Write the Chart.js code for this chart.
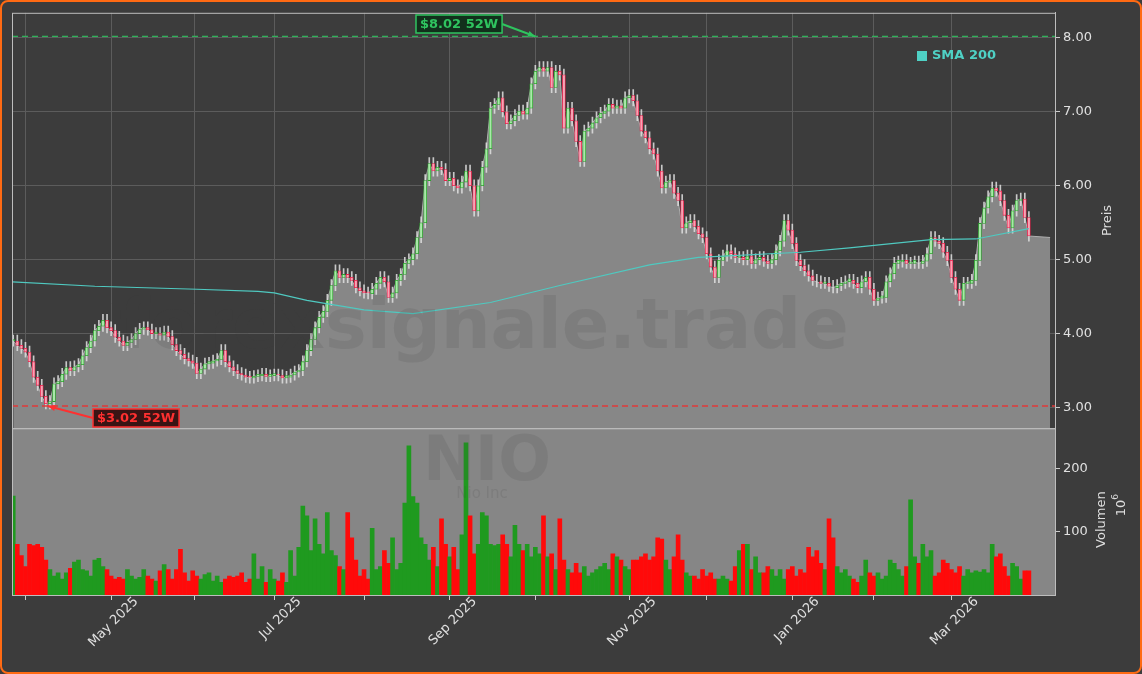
<!DOCTYPE html>
<html>
<head>
<meta charset="utf-8">
<script src="https://cdn.jsdelivr.net/npm/chart.js@4.4.1/dist/chart.umd.min.js"></script>
<style>
  html, body { margin: 0; padding: 0; background: #3c3c3c; }
  #wrap { width: 1138px; height: 670px; border: 2px solid #ff6a13; border-radius: 8px; overflow: hidden; }
</style>
</head>
<body>
<div id="wrap"><canvas id="chart" width="1138" height="670"></canvas></div>
<script>
// daily closes (trading-day index 0 = 27 Mar 2025)
const closes = [
  3.90,3.84,3.80,3.75,3.62, 3.41,3.30,3.15,3.05,3.08, 3.32,3.35,3.45,3.54,3.50, 3.55,3.58,3.70,3.81,3.90,
  4.04,4.10,4.18,4.08,4.04, 3.95,3.90,3.84,3.88,3.92, 4.00,4.06,4.08,4.05,4.00, 4.00,3.98,4.02,3.96,3.85,
  3.77,3.72,3.66,3.63,3.60, 3.46,3.52,3.59,3.60,3.63, 3.65,3.77,3.62,3.55,3.50, 3.46,3.44,3.41,3.40,3.42,
  3.43,3.45,3.42,3.43,3.44, 3.43,3.40,3.41,3.44,3.48, 3.50,3.62,3.77,3.92,4.08, 4.22,4.30,4.45,4.65,4.85,
  4.76,4.80,4.76,4.72,4.62, 4.58,4.55,4.54,4.60,4.68, 4.76,4.70,4.49,4.55,4.72, 4.80,4.95,5.00,5.08,5.30,
  5.50,6.07,6.30,6.20,6.25, 6.22,6.07,6.10,6.00,5.97, 6.05,6.20,6.00,5.66,6.00, 6.25,6.50,7.05,7.10,7.19,
  7.00,6.84,6.88,6.95,7.01, 6.97,7.05,7.38,7.55,7.60, 7.55,7.60,7.33,7.55,7.50, 6.78,7.05,6.88,6.60,6.33,
  6.74,6.78,6.85,6.92,6.98, 7.01,7.10,7.05,7.08,7.05, 7.19,7.22,7.15,6.95,6.74, 6.65,6.50,6.43,6.20,5.97,
  6.05,6.07,5.90,5.80,5.43, 5.50,5.53,5.45,5.35,5.30, 5.08,4.90,4.76,4.99,5.05, 5.12,5.08,5.03,5.03,5.00,
  5.05,4.95,5.00,5.03,4.98, 4.95,5.00,5.12,5.25,5.53, 5.40,5.22,4.99,4.92,4.85, 4.78,4.72,4.70,4.68,4.68,
  4.64,4.62,4.65,4.68,4.70, 4.72,4.68,4.62,4.70,4.76, 4.60,4.45,4.48,4.49,4.70, 4.81,4.95,4.97,4.99,4.95,
  4.95,4.97,4.95,4.98,5.08, 5.30,5.25,5.22,5.10,4.99, 4.76,4.60,4.45,4.68,4.68, 4.72,4.99,5.49,5.70,5.85,
  5.97,5.93,5.80,5.60,5.43, 5.66,5.80,5.82,5.57,5.32
];
// volume in millions
const volumes = [
  156,80,62,45,80, 78,80,75,55,40, 30,35,25,35,42, 52,55,40,38,30, 55,58,45,40,30, 25,28,25,40,30,
  25,28,40,30,25, 22,38,48,40,25, 40,72,35,22,38, 30,25,32,35,22, 30,20,25,30,28, 30,35,20,25,65,
  25,45,20,40,25, 22,35,20,70,30, 75,140,125,70,120, 80,65,130,70,62, 45,40,130,90,55, 30,40,25,105,40,
  45,70,50,90,40, 50,145,235,155,145, 90,80,55,75,45, 120,80,60,75,40, 95,240,125,65,80, 130,125,80,78,80,
  95,80,60,110,80, 70,80,60,75,65, 125,60,65,40,120, 55,40,35,50,35, 45,30,35,40,45, 50,40,65,60,55,
  45,40,55,55,60, 65,55,60,90,88, 55,40,60,95,55, 35,30,30,25,40, 30,35,25,25,30, 25,22,45,70,80,
  80,40,60,35,35, 45,40,30,40,25, 40,45,30,40,35, 75,60,70,50,40, 120,90,45,35,40, 30,25,20,30,55,
  35,30,35,25,30, 55,50,40,30,45, 150,60,50,80,60, 70,30,35,55,50, 40,35,45,30,40, 35,38,36,40,35,
  80,60,65,45,30, 50,45,25,38,38
];
// SMA 200 read at a few positions [index, value]
const smaIdx = [-0.2, 20, 45, 60, 64, 72, 86, 98, 117, 134, 156, 168, 193, 205, 225, 236, 249];
const smaVal = [4.70, 4.64, 4.60, 4.57, 4.55, 4.45, 4.32, 4.27, 4.42, 4.65, 4.93, 5.03, 5.10, 5.16, 5.27, 5.28, 5.42];
// month starts (trading-day index) and labels
const monthIdx = [3, 24, 44.5, 64, 86, 107, 128, 151, 170, 191, 211, 230];
const monthLabels = ['', 'May 2025', '', 'Jul 2025', '', 'Sep 2025', '', 'Nov 2025', '', 'Jan 2026', '', 'Mar 2026'];
const priceTicks = [3, 4, 5, 6, 7, 8];
const high52 = 8.02, high52Idx = 128;
const low52 = 3.02, low52Idx = 8;
const lastArea = { x: 254.2, y: 5.30 };

const opens = closes.map((c, i) => i === 0 ? c : closes[i - 1]);
const up = closes.map((c, i) => c >= opens[i]);

const bodies = closes.map((c, i) => ({ x: i, y: [opens[i], Math.abs(c - opens[i]) < 0.02 ? c + 0.02 : c] }));
const wicks = closes.map((c, i) => ({ x: i, y: [Math.min(c, opens[i]) - 0.07, Math.max(c, opens[i]) + 0.08] }));
const area = closes.map((c, i) => ({ x: i, y: c })).concat([lastArea]);
const vol = volumes.map((v, i) => ({ x: i, y: v }));
const sma = smaIdx.map((x, i) => ({ x, y: smaVal[i] }));

const FONT = 'DejaVu Sans';

const decor = {
  id: 'decor',
  beforeDatasetsDraw(chart) {
    const { ctx, chartArea } = chart;
    const yv = chart.scales.yv;
    ctx.save();
    ctx.fillStyle = '#868686';
    ctx.fillRect(chartArea.left, yv.top, chartArea.right - chartArea.left, yv.bottom - yv.top);
    ctx.restore();
  },
  afterDatasetsDraw(chart) {
    const { ctx, chartArea } = chart;
    const x = chart.scales.x, y = chart.scales.y, yv = chart.scales.yv;
    ctx.save();
    // watermarks
    ctx.fillStyle = 'rgba(60,60,60,0.13)';
    ctx.font = 'bold 70px ' + FONT;
    ctx.textAlign = 'center'; ctx.textBaseline = 'middle';
    ctx.fillText('forexsignale.trade', 482, 328);
    ctx.font = 'bold 62px ' + FONT;
    ctx.fillText('NIO', 485, 462);
    ctx.font = '15px ' + FONT;
    ctx.fillText('Nio Inc', 480, 492);
    // 52w lines
    ctx.setLineDash([6, 4]);
    ctx.lineWidth = 1.3;
    ctx.strokeStyle = '#2fb35a';
    ctx.beginPath(); ctx.moveTo(chartArea.left, y.getPixelForValue(high52)); ctx.lineTo(chartArea.right, y.getPixelForValue(high52)); ctx.stroke();
    ctx.strokeStyle = '#e03a3a';
    ctx.beginPath(); ctx.moveTo(chartArea.left, y.getPixelForValue(low52)); ctx.lineTo(chartArea.right, y.getPixelForValue(low52)); ctx.stroke();
    ctx.setLineDash([]);
    // annotations
    function note(text, tipX, tipY, bx, by, fg, bg) {
      ctx.font = 'bold 13px ' + FONT;
      const w = ctx.measureText(text).width + 8;
      ctx.strokeStyle = fg; ctx.lineWidth = 2;
      ctx.beginPath();
      const sx = bx < tipX ? bx + w : bx;
      ctx.moveTo(sx, by + 9); ctx.lineTo(tipX, tipY); ctx.stroke();
      const ang = Math.atan2(tipY - by - 9, tipX - sx);
      ctx.fillStyle = fg;
      ctx.beginPath();
      ctx.moveTo(tipX, tipY);
      ctx.lineTo(tipX - 8 * Math.cos(ang - 0.4), tipY - 8 * Math.sin(ang - 0.4));
      ctx.lineTo(tipX - 8 * Math.cos(ang + 0.4), tipY - 8 * Math.sin(ang + 0.4));
      ctx.fill();
      ctx.fillStyle = bg; ctx.fillRect(bx, by, w, 18);
      ctx.lineWidth = 1.5; ctx.strokeRect(bx, by, w, 18);
      ctx.fillStyle = fg; ctx.textAlign = 'left'; ctx.textBaseline = 'middle';
      ctx.fillText(text, bx + 4, by + 9.5);
    }
    note('$8.02 52W', x.getPixelForValue(high52Idx), y.getPixelForValue(high52), 414, 13, '#2fc45f', '#12301c');
    note('$3.02 52W', x.getPixelForValue(low52Idx) + 2, y.getPixelForValue(low52), 91, 407, '#ff3030', '#3a1414');
    // legend
    ctx.fillStyle = '#4fd1c5';
    ctx.fillRect(915, 49, 10, 10);
    ctx.font = 'bold 13px ' + FONT; ctx.textAlign = 'left'; ctx.textBaseline = 'middle';
    ctx.fillText('SMA 200', 930, 54);
    // panel frames
    ctx.strokeStyle = '#bdbdbd'; ctx.lineWidth = 1;
    ctx.strokeRect(chartArea.left + 0.5, y.top + 0.5, chartArea.right - chartArea.left, y.bottom - y.top);
    ctx.strokeRect(chartArea.left + 0.5, yv.top + 0.5, chartArea.right - chartArea.left, yv.bottom - yv.top);
    // axis titles
    ctx.fillStyle = '#dddddd'; ctx.font = '13px ' + FONT; ctx.textAlign = 'center';
    ctx.save(); ctx.translate(1106, (y.top + y.bottom) / 2); ctx.rotate(-Math.PI / 2); ctx.fillText('Preis', 0, 0); ctx.restore();
    ctx.save(); ctx.translate(1100, (yv.top + yv.bottom) / 2 + 8); ctx.rotate(-Math.PI / 2); ctx.fillText('Volumen', 0, 0); ctx.restore();
    ctx.save(); ctx.translate(1120, 506); ctx.rotate(-Math.PI / 2); ctx.fillText('10', 0, 0);
    ctx.font = '9px ' + FONT; ctx.fillText('6', 11, -6); ctx.restore();
    ctx.restore();
  }
};

new Chart(document.getElementById('chart'), {
  data: {
    datasets: [
      { type: 'line', label: 'SMA 200', data: sma, yAxisID: 'y', borderColor: '#4fc9c0', borderWidth: 1.2, pointRadius: 0, fill: false, order: 0 },
      { type: 'bar', label: 'bodies', data: bodies, yAxisID: 'y', grouped: false, barThickness: 3,
        backgroundColor: up.map(u => u ? '#a9e9a9' : '#f7a3b4'), borderColor: up.map(u => u ? '#2ca02c' : '#e8204a'),
        borderWidth: 0.8, borderSkipped: false, order: 1 },
      { type: 'bar', label: 'wicks', data: wicks, yAxisID: 'y', grouped: false, barThickness: 1,
        backgroundColor: 'rgba(225,225,225,0.85)', order: 2 },
      { type: 'line', label: 'area', data: area, yAxisID: 'y', borderColor: '#b0b0b0', borderWidth: 1,
        backgroundColor: '#878787', fill: 'start', pointRadius: 0, tension: 0, order: 3 },
      { type: 'bar', label: 'vol', data: vol, yAxisID: 'yv', grouped: false, barThickness: 4,
        backgroundColor: up.map(u => u ? '#1f9a1f' : '#ff0a0a'), order: 4 }
    ]
  },
  options: {
    responsive: false,
    animation: false,
    layout: { padding: { left: 10, top: 10, right: 0, bottom: 0 } },
    plugins: { legend: { display: false }, tooltip: { enabled: false } },
    scales: {
      x: {
        type: 'linear', min: -0.3, max: 255.4, offset: false,
        afterBuildTicks: a => { a.ticks = monthIdx.map(v => ({ value: v })); },
        afterFit: a => { a.height = 77; },
        ticks: { autoSkip: false, minRotation: 45, maxRotation: 45, labelOffset: 25, padding: -6, color: '#e0e0e0', font: { family: FONT, size: 13 },
          callback: v => monthLabels[monthIdx.indexOf(v)] || '' },
        grid: { color: '#5c5c5c', tickColor: '#cccccc', tickLength: 5, offset: false },
        border: { color: '#bdbdbd' }
      },
      y: {
        type: 'linear', position: 'right', stack: 'v', stackWeight: 2.49, offset: false,
        min: 2.72, max: 8.34,
        afterBuildTicks: a => { a.ticks = priceTicks.map(v => ({ value: v })); },
        afterFit: a => { a.width = 85; },
        ticks: { color: '#e0e0e0', font: { family: FONT, size: 13 }, callback: v => v.toFixed(2) },
        grid: { color: '#5c5c5c', tickColor: '#cccccc', tickLength: 5 },
        border: { color: '#bdbdbd' }
      },
      yv: {
        type: 'linear', position: 'right', stack: 'v', stackWeight: 1, offset: false,
        min: 0, max: 263,
        afterBuildTicks: a => { a.ticks = [100, 200].map(v => ({ value: v })); },
        afterFit: a => { a.width = 85; },
        ticks: { color: '#e0e0e0', font: { family: FONT, size: 13 } },
        grid: { display: true, drawOnChartArea: false, tickColor: '#cccccc', tickLength: 5 },
        border: { color: '#bdbdbd' }
      }
    }
  },
  plugins: [decor]
});
</script>
</body>
</html>
